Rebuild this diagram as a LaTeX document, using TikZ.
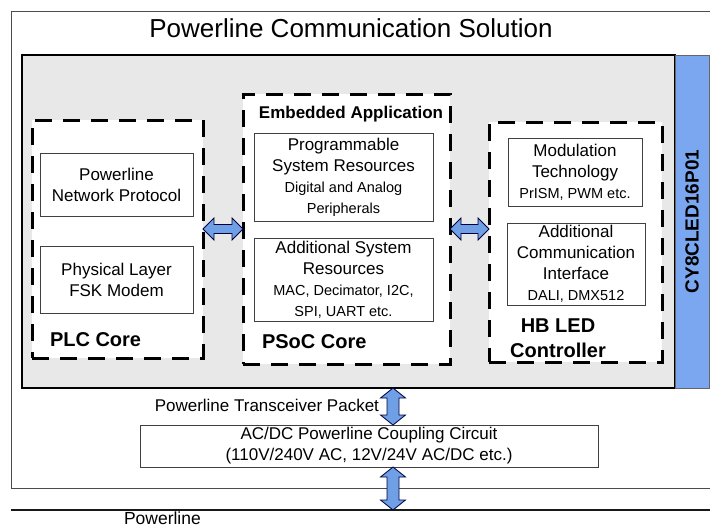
\documentclass[tikz,border=0pt]{standalone}
\usepackage{fontspec}
\setmainfont{Liberation Sans}
\usetikzlibrary{calc}
\definecolor{panelgray}{HTML}{E8E8E8}
\definecolor{barblue}{HTML}{7BA7F0}
\definecolor{arrblue}{HTML}{6FA0E6}
\newcommand{\smallf}{\fontsize{14.5}{17}\selectfont}
\newcommand{\harrowblk}[2]{%
  \draw[blk] let \p1=#1, \p2=#2 in
    (\x1,\y1) -- (\x1+11pt,\y1+11pt) -- (\x1+11pt,\y1+4.5pt) -- (\x2-11pt,\y1+4.5pt)
    -- (\x2-11pt,\y1+11pt) -- (\x2,\y1) -- (\x2-11pt,\y1-11pt) -- (\x2-11pt,\y1-4.5pt)
    -- (\x1+11pt,\y1-4.5pt) -- (\x1+11pt,\y1-11pt) -- cycle;}
\newcommand{\varrowblk}[2]{%
  \draw[blk] let \p1=#1, \p2=#2 in
    (\x1,\y1) -- (\x1+12.5pt,\y1-10pt) -- (\x1+6pt,\y1-10pt) -- (\x1+6pt,\y2+10pt)
    -- (\x1+12.5pt,\y2+10pt) -- (\x1,\y2) -- (\x1-12.5pt,\y2+10pt) -- (\x1-6pt,\y2+10pt)
    -- (\x1-6pt,\y1-10pt) -- (\x1-12.5pt,\y1-10pt) -- cycle;}
\begin{document}
\begin{tikzpicture}[x=1pt,y=-1pt,
  every node/.style={inner sep=0pt, outer sep=0pt},
  body/.style={font=\fontsize{17}{21}\selectfont, align=center},
  corebox/.style={draw=black, line width=3pt, dash pattern=on 17pt off 11pt, fill=white},
  subbox/.style={draw=black!75, line width=0.8pt, fill=white, align=center,
                 font=\fontsize{17}{21}\selectfont},
  blk/.style={draw=black!75!blue, fill=arrblue, line width=0.8pt, line join=miter},
  boldlbl/.style={font=\fontsize{20}{25}\selectfont\bfseries, align=center}
]
\useasboundingbox (0,0) rectangle (710,525);
\clip (0,0) rectangle (710,525);

% outer frame
\node[draw=black!70, line width=1pt, minimum width=719, minimum height=477] (outer) at (370.5,249.5) {};
\node[font=\fontsize{26}{30}\selectfont] (title) at (351,28) {Powerline Communication Solution};

% gray panel and blue bar
\node[draw=black, line width=1.8pt, fill=panelgray, minimum width=653, minimum height=333] (panel) at (348.5,221.5) {};
\node[draw=black!60, line width=1pt, fill=barblue, minimum width=34, minimum height=333] (bar) at (692,221.5) {};
\node[rotate=90, font=\fontsize{19}{23}\selectfont\bfseries] (chip) at (bar.center) {CY8CLED16P01};

% PLC core
\node[corebox, minimum width=171, minimum height=238] (plc) at (117.5,239) {};
\node[subbox, minimum width=153, minimum height=63] (pnp) at (116.5,184.5) {Powerline\\Network Protocol};
\node[subbox, minimum width=153, minimum height=67] (phy) at (116.5,279.5) {Physical Layer\\FSK Modem};
\node[boldlbl, anchor=west] (plclbl) at (50,340) {PLC Core};

% PSoC core
\node[corebox, minimum width=207, minimum height=270] (psoc) at (346.5,229) {};
\node[font=\fontsize{17}{21}\selectfont\bfseries, anchor=base] (emb) at (351,118) {Embedded Application};
\node[subbox, minimum width=179, minimum height=88] (psr) at (343.5,177) {Programmable\\System Resources\\\smallf Digital and Analog\\\smallf Peripherals};
\node[subbox, minimum width=179, minimum height=83] (asr) at (343.5,279.5) {Additional System\\Resources\\\smallf MAC, Decimator, I2C,\\\smallf SPI, UART etc.};
\node[boldlbl, anchor=west] (psoclbl) at (262,341.5) {PSoC Core};

% HB LED controller
\node[corebox, minimum width=173, minimum height=240] (hb) at (575.5,242) {};
\node[subbox, minimum width=134, minimum height=68] (mod) at (575,172) {Modulation\\Technology\\\smallf PrISM, PWM etc.};
\node[subbox, minimum width=138, minimum height=82] (aci) at (576,264) {Additional\\Communication\\Interface\\\smallf DALI, DMX512};
\node[boldlbl] (hblbl) at (558,338.5) {HB LED\\Controller};

% horizontal arrows
\harrowblk{(plc.east |- psoc.west)}{(psoc.west)}
\harrowblk{(psoc.east)}{(hb.west |- psoc.east)}

% coupling circuit
\node[subbox, minimum width=458, minimum height=42] (coup) at (369,446) {AC/DC Powerline Coupling Circuit\\(110V/240V AC, 12V/24V AC/DC etc.)};
\node[body, anchor=east] (pkt) at (379,405) {Powerline Transceiver Packet};

% powerline
\coordinate (plL) at (11,510);
\coordinate (plR) at (720,510);
\draw[line width=1.8pt, black!90] (plL) -- (plR);
\node[font=\fontsize{17.5}{21}\selectfont, anchor=base west] (pl) at (124,524.6) {Powerline};

% vertical arrows
\coordinate (vx) at (393,0);
\varrowblk{(panel.south -| vx)}{(coup.north -| vx)}
\varrowblk{(coup.south -| vx)}{(plL -| vx)}
\end{tikzpicture}
\end{document}
